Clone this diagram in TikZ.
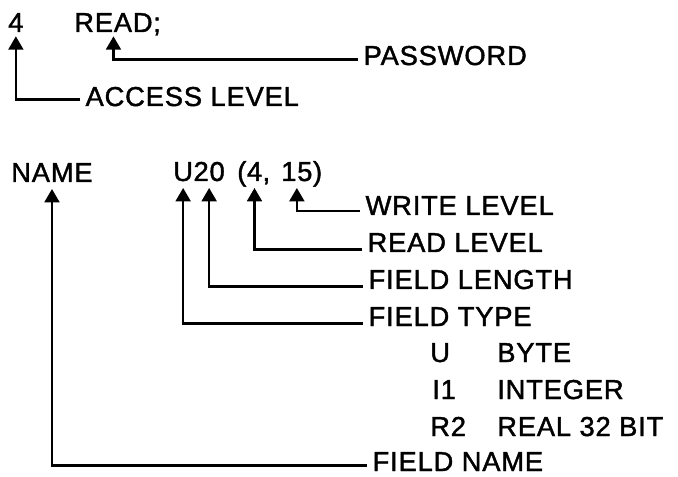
\documentclass[tikz,border=0pt]{standalone}
\usepackage{fontspec}
\setmainfont{Liberation Sans}[LetterSpace=3.0,FakeBold=1.5]
\usetikzlibrary{positioning,arrows.meta}

\begin{document}
\begin{tikzpicture}[
    x=0.75pt, y=-0.75pt,
    font=\fontsize{20.5}{23}\selectfont,
    code/.style={
        inner xsep=0pt,
        inner ysep=3pt,
        text depth=0pt,
        anchor=base west
    },
    field/.style={
        code,
        inner ysep=5pt
    },
    lbl/.style={
        inner xsep=4pt,
        inner ysep=0pt,
        text depth=0pt,
        anchor=base west
    },
    plain/.style={
        inner sep=0pt,
        anchor=base west
    },
    arr/.style={-{Triangle[length=10pt,width=11pt]}, line width=2pt}
]
\useasboundingbox (0,0) rectangle (678,477);

% access statement
\node[code] (lvl) at (8,32) {4};
\node[code] (pwd) at (74,32) {READ};
\node[plain, base right=0pt of pwd] (semi) {;};
\node[lbl] (acc) at (80,106) {ACCESS LEVEL};
\node[lbl] (pass) at (358,65) {PASSWORD};

\draw[arr] ([yshift=4pt]pass.base west) -| (pwd.south);
\draw[arr] ([yshift=5pt]acc.base west) -| (lvl.south);

% field statement
\node[field] (nm) at (11,182) {NAME};
\node[field] (ft) at (173,181) {U};
\node[field, base right=0pt of ft] (fl) {20};
\node[plain] (po) at (237,181) {(};
\node[field, base right=0pt of po] (rl) {4};
\node[plain, base right=0pt of rl] (cm) {,};
\node[field] (wl) at (281,181) {15};
\node[plain, base right=0pt of wl] (pc) {)};

% labels
\node[lbl] (wlev) at (360,215) {WRITE LEVEL};
\node[lbl] (rlev) at (362,252) {READ LEVEL};
\node[lbl] (flen) at (363,289) {FIELD LENGTH};
\node[lbl] (ftyp) at (363,326) {FIELD TYPE};
\node[lbl] (fnam) at (367,471) {FIELD NAME};

% field types
\node[plain] (tu) at (430,362) {U};
\node[plain] (tub) at (497,362) {BYTE};
\node[plain] (ti) at (432,399) {I1};
\node[plain] (tib) at (497,399) {INTEGER};
\node[plain] (tr) at (430,436) {R2};
\node[plain] (trb) at (497,436) {REAL 32 BIT};

\draw[arr] ([yshift=3pt]wlev.base west) -| (wl.south);
\draw[arr] ([yshift=2pt]rlev.base west) -| (rl.south);
\draw[arr] ([yshift=2pt]flen.base west) -| (fl.south);
\draw[arr] ([yshift=2pt]ftyp.base west) -| (ft.south);
\draw[arr] ([yshift=4pt]fnam.base west) -| (nm.south);

\end{tikzpicture}
\end{document}
